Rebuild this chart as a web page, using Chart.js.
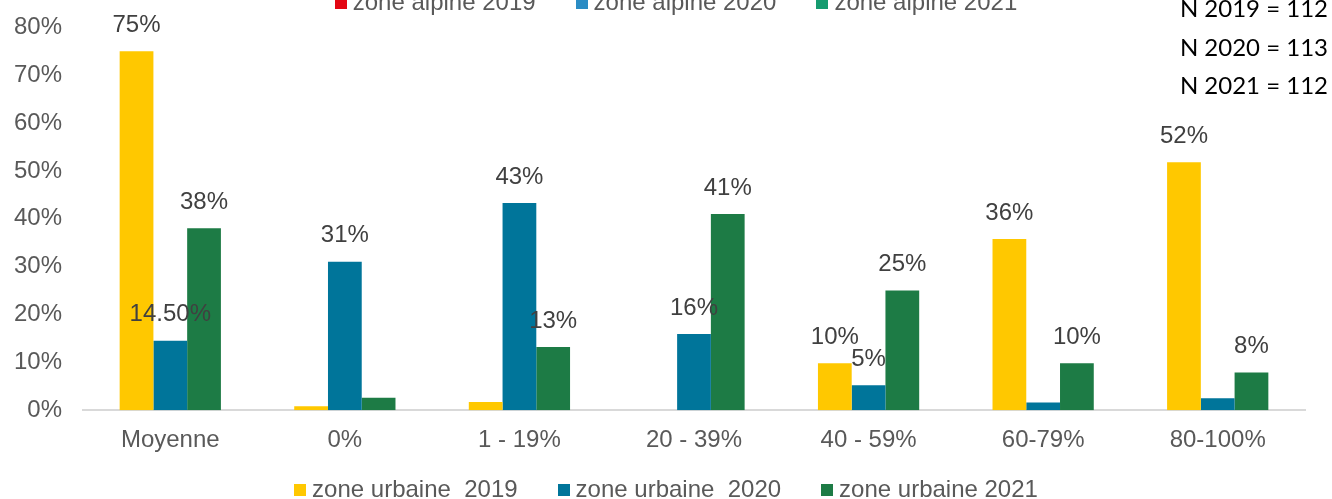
<!DOCTYPE html>
<html>
<head>
<meta charset="utf-8">
<script src="https://cdn.jsdelivr.net/npm/chart.js@4.4.0/dist/chart.umd.min.js"></script>
<style>
  html, body { margin: 0; padding: 0; background: #fff; }
  #wrap { position: relative; width: 1332px; height: 499px; overflow: hidden; }
  #chart { position: absolute; left: 0; top: 0; }
  .legend { position: absolute; left: 0; width: 1332px; display: flex; justify-content: center; gap: 40px;
            font: 24px "Liberation Sans", Arial, sans-serif; color: #595959; white-space: pre; line-height: 28px; }
  .legend i { display: inline-block; width: 12px; height: 12px; margin-right: 6px; vertical-align: 1px; }
  #top-legend { top: -12px; padding-left: 20px; box-sizing: border-box; }
  #bottom-legend { top: 475px; }
  #counts { position: absolute; right: 4px; top: -11px; text-align: right; font: 24px Lato, "Noto Sans", sans-serif; color: #000; line-height: 38.5px; }
</style>
</head>
<body>
<div id="wrap">
  <canvas id="chart" width="1332" height="499"></canvas>
  <div id="top-legend" class="legend"></div>
  <div id="bottom-legend" class="legend"></div>
  <div id="counts"></div>
</div>
<script>
// ---- data ----
const categories = ['Moyenne', '0%', '1 - 19%', '20 - 39%', '40 - 59%', '60-79%', '80-100%'];
const urbain2019 = [75, 0.8, 1.7, 0, 9.8, 35.8, 51.8];
const urbain2020 = [14.5, 31, 43.3, 15.9, 5.2, 1.6, 2.5];
const urbain2021 = [38, 2.6, 13.2, 41, 25, 9.8, 7.9];
// labels actually printed above the bars (null = no label)
const labels2019 = ['75%', null, null, null, '10%', '36%', '52%'];
const labels2020 = ['14.50%', '31%', '43%', '16%', '5%', null, null];
const labels2021 = ['38%', null, '13%', '41%', '25%', '10%', '8%'];
const urbainNames = ['zone urbaine  2019', 'zone urbaine  2020', 'zone urbaine 2021'];
const alpineNames = ['zone alpine 2019', 'zone alpine 2020', 'zone alpine 2021'];
const countLines = ['N 2019 = 112', 'N 2020 = 113', 'N 2021 = 112'];
const yTicks = [0, 10, 20, 30, 40, 50, 60, 70, 80];

const COLORS = { y2019: '#FFC800', y2020: '#00759A', y2021: '#1D7B45', text: '#595959', label: '#404040', axis: '#D9D9D9' };
const ALPINE_COLORS = ['#E30613', '#2B8CC4', '#169B6F'];
const FONT = "'Liberation Sans', Arial, sans-serif";

function renderLegend(id, names, colors) {
  document.getElementById(id).innerHTML = names.map((t, i) =>
    `<span><i style="background:${colors[i]}"></i>${t}</span>`
  ).join('');
}

// the alpine series have no bars in this chart, only their legend entries
renderLegend('top-legend', alpineNames, ALPINE_COLORS);
renderLegend('bottom-legend', urbainNames, [COLORS.y2019, COLORS.y2020, COLORS.y2021]);
document.getElementById('counts').innerHTML = countLines.join('<br>');

const barLabels = {
  id: 'barLabels',
  afterDatasetsDraw(chart) {
    const ctx = chart.ctx;
    ctx.save();
    ctx.font = '24px ' + FONT;
    ctx.fillStyle = COLORS.label;
    ctx.textAlign = 'center';
    ctx.textBaseline = 'middle';
    chart.data.datasets.forEach((ds, i) => {
      if (!ds.valueLabels) return;
      chart.getDatasetMeta(i).data.forEach((bar, j) => {
        const txt = ds.valueLabels[j];
        if (txt) ctx.fillText(txt, bar.x, bar.y - 26);
      });
    });
    ctx.restore();
  }
};

new Chart(document.getElementById('chart'), {
  type: 'bar',
  data: {
    labels: categories,
    datasets: [
      { label: urbainNames[0], data: urbain2019, valueLabels: labels2019, backgroundColor: COLORS.y2019 },
      { label: urbainNames[1], data: urbain2020, valueLabels: labels2020, backgroundColor: COLORS.y2020 },
      { label: urbainNames[2], data: urbain2021, valueLabels: labels2021, backgroundColor: COLORS.y2021 }
    ]
  },
  options: {
    responsive: false,
    animation: false,
    datasets: { bar: { categoryPercentage: 0.58, barPercentage: 1.0, borderWidth: 0 } },
    layout: { padding: { top: 7, right: 27, left: 0, bottom: 36 } },
    plugins: {
      legend: { display: false },
      tooltip: { enabled: false }
    },
    scales: {
      x: {
        grid: { display: false },
        border: { color: COLORS.axis, width: 2 },
        ticks: { color: COLORS.text, font: { family: FONT, size: 24 }, padding: 8 }
      },
      y: {
        min: 0, max: 80,
        afterBuildTicks: (axis) => { axis.ticks = yTicks.map(v => ({ value: v })); },
        afterFit: (axis) => { axis.width = 83; },
        grid: { display: false },
        border: { display: false },
        ticks: { color: COLORS.text, font: { family: FONT, size: 24 }, padding: 13, callback: v => v + '%' }
      }
    }
  },
  plugins: [barLabels]
});
</script>
</body>
</html>
